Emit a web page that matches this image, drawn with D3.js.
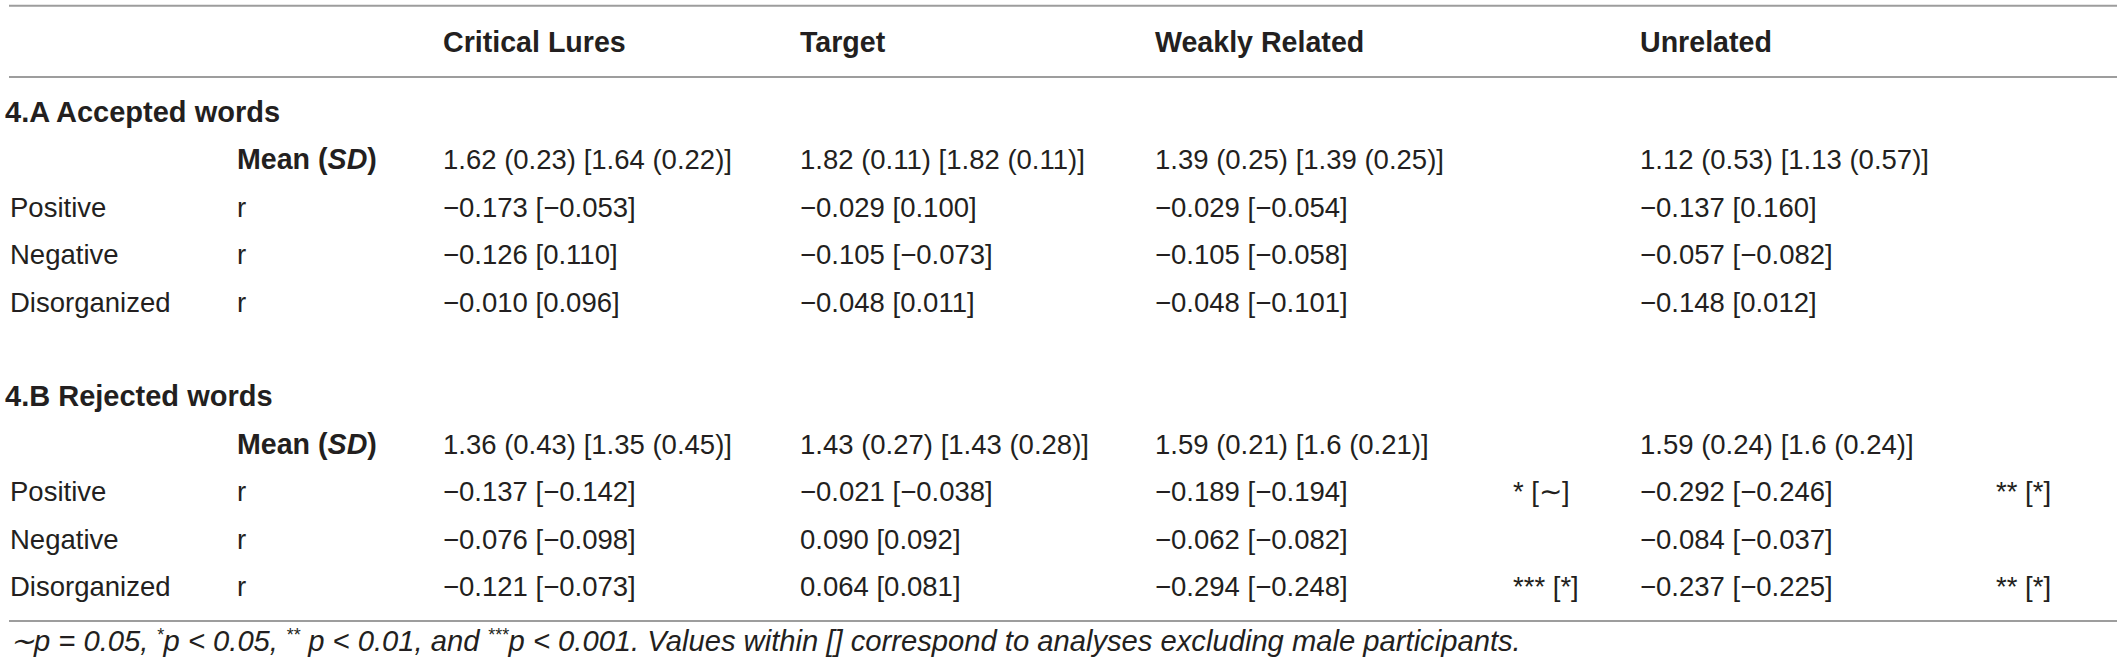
<!DOCTYPE html>
<html>
<head>
<meta charset="utf-8">
<script src="https://cdn.jsdelivr.net/npm/d3@7"></script>
<style>
  body { margin: 0; background: #fff; }
  svg text { font-family: "Liberation Sans", Arial, sans-serif; fill: #231f20; }
</style>
</head>
<body>
<div id="box"></div>
<script>
// column headers and row labels
var columns = ["Critical Lures", "Target", "Weakly Related", "Unrelated"];
var sections = ["4.A Accepted words", "4.B Rejected words"];
var factors = ["Positive", "Negative", "Disorganized"];

// means (SD), all participants and [female only]
var accMean  = [1.62, 1.82, 1.39, 1.12];
var accSD    = [0.23, 0.11, 0.25, 0.53];
var accMeanF = [1.64, 1.82, 1.39, 1.13];
var accSDF   = [0.22, 0.11, 0.25, 0.57];
var rejMean  = [1.36, 1.43, 1.59, 1.59];
var rejSD    = [0.43, 0.27, 0.21, 0.24];
var rejMeanF = [1.35, 1.43, 1.6, 1.6];
var rejSDF   = [0.45, 0.28, 0.21, 0.24];

// r per factor (rows) x column
var accR  = [[-0.173, -0.029, -0.029, -0.137],
             [-0.126, -0.105, -0.105, -0.057],
             [-0.010, -0.048, -0.048, -0.148]];
var accRF = [[-0.053, 0.100, -0.054, 0.160],
             [0.110, -0.073, -0.058, -0.082],
             [0.096, 0.011, -0.101, 0.012]];
var rejR  = [[-0.137, -0.021, -0.189, -0.292],
             [-0.076, 0.090, -0.062, -0.084],
             [-0.121, 0.064, -0.294, -0.237]];
var rejRF = [[-0.142, -0.038, -0.194, -0.246],
             [-0.098, 0.092, -0.082, -0.037],
             [-0.073, 0.081, -0.248, -0.225]];

// significance marks (rejected words only), per factor for Weakly Related / Unrelated
var sigWeak = ["* [\u223C]", "", "*** [*]"];
var sigUnrel = ["** [*]", "", "** [*]"];

var footnote = [
  {t: "\u223Cp = 0.05, ", sup: false},
  {t: "*", sup: true}, {t: "p < 0.05, ", sup: false},
  {t: "**", sup: true}, {t: " p < 0.01, and ", sup: false},
  {t: "***", sup: true},
  {t: "p < 0.001. Values within [] correspond to analyses excluding male participants.", sup: false}
];

var W = 2121, H = 670;
var svg = d3.select("#box").append("svg").attr("width", W).attr("height", H);

var x = d3.scaleOrdinal().domain(columns).range([443, 800, 1155, 1640]);
var sigX = d3.scaleOrdinal().domain(["Weakly Related", "Unrelated"]).range([1513, 1996]);
var y = d3.scaleLinear().domain([0, 10]).range([122, 596]);

var fmtR = function(v) { return d3.format(".3f")(v).replace("-", "\u2013"); };
var fmtM = function(m, s, mf, sf) { return m + " (" + s + ") [" + mf + " (" + sf + ")]"; };

var fs = "27.5px";

// rules
[5.7, 77, 621].forEach(function(ly) {
  svg.append("line").attr("x1", 9).attr("x2", 2117).attr("y1", ly).attr("y2", ly)
     .style("stroke", "#9d9d9d").style("stroke-width", 2);
});

// header
svg.selectAll(".colhead").data(columns).enter().append("text")
   .attr("x", function(d) { return x(d); }).attr("y", 52)
   .style("font-size", "28.6px").style("font-weight", "bold")
   .text(function(d) { return d; });

function drawSection(i0, title, mean, sd, meanF, sdF, r, rF, sigs) {
  svg.append("text").attr("x", 5).attr("y", y(i0))
     .style("font-size", "29px").style("font-weight", "bold").text(title);

  var mt = svg.append("text").attr("x", 237).attr("y", y(i0 + 1))
     .style("font-size", "28.6px").style("font-weight", "bold");
  mt.append("tspan").text("Mean (");
  mt.append("tspan").style("font-style", "italic").text("SD");
  mt.append("tspan").text(")");

  svg.selectAll(null).data(columns).enter().append("text")
     .attr("x", function(d) { return x(d); }).attr("y", y(i0 + 1))
     .style("font-size", fs)
     .text(function(d, j) { return fmtM(mean[j], sd[j], meanF[j], sdF[j]); });

  factors.forEach(function(f, k) {
    var ry = y(i0 + 2 + k);
    svg.append("text").attr("x", 10).attr("y", ry).style("font-size", fs).text(f);
    svg.append("text").attr("x", 237).attr("y", ry).style("font-size", fs).text("r");
    svg.selectAll(null).data(columns).enter().append("text")
       .attr("x", function(d) { return x(d); }).attr("y", ry)
       .style("font-size", fs)
       .text(function(d, j) { return fmtR(r[k][j]) + " [" + fmtR(rF[k][j]) + "]"; });
    if (sigs) {
      svg.append("text").attr("x", sigX("Weakly Related")).attr("y", ry)
         .style("font-size", fs).text(sigs[0][k]);
      svg.append("text").attr("x", sigX("Unrelated")).attr("y", ry)
         .style("font-size", fs).text(sigs[1][k]);
    }
  });
}

drawSection(0, sections[0], accMean, accSD, accMeanF, accSDF, accR, accRF, null);
drawSection(6, sections[1], rejMean, rejSD, rejMeanF, rejSDF, rejR, rejRF, [sigWeak, sigUnrel]);

// footnote, superscript stars
var ft = svg.append("text").attr("x", 10).attr("y", 651)
   .style("font-size", "29.2px").style("font-style", "italic");
footnote.forEach(function(p, i) {
  var prevSup = i > 0 && footnote[i - 1].sup;
  var ts = ft.append("tspan").text(p.t);
  if (p.sup) ts.style("font-size", "18px").attr("dy", -10);
  else if (prevSup) ts.attr("dy", 10);
});
</script>
</body>
</html>
